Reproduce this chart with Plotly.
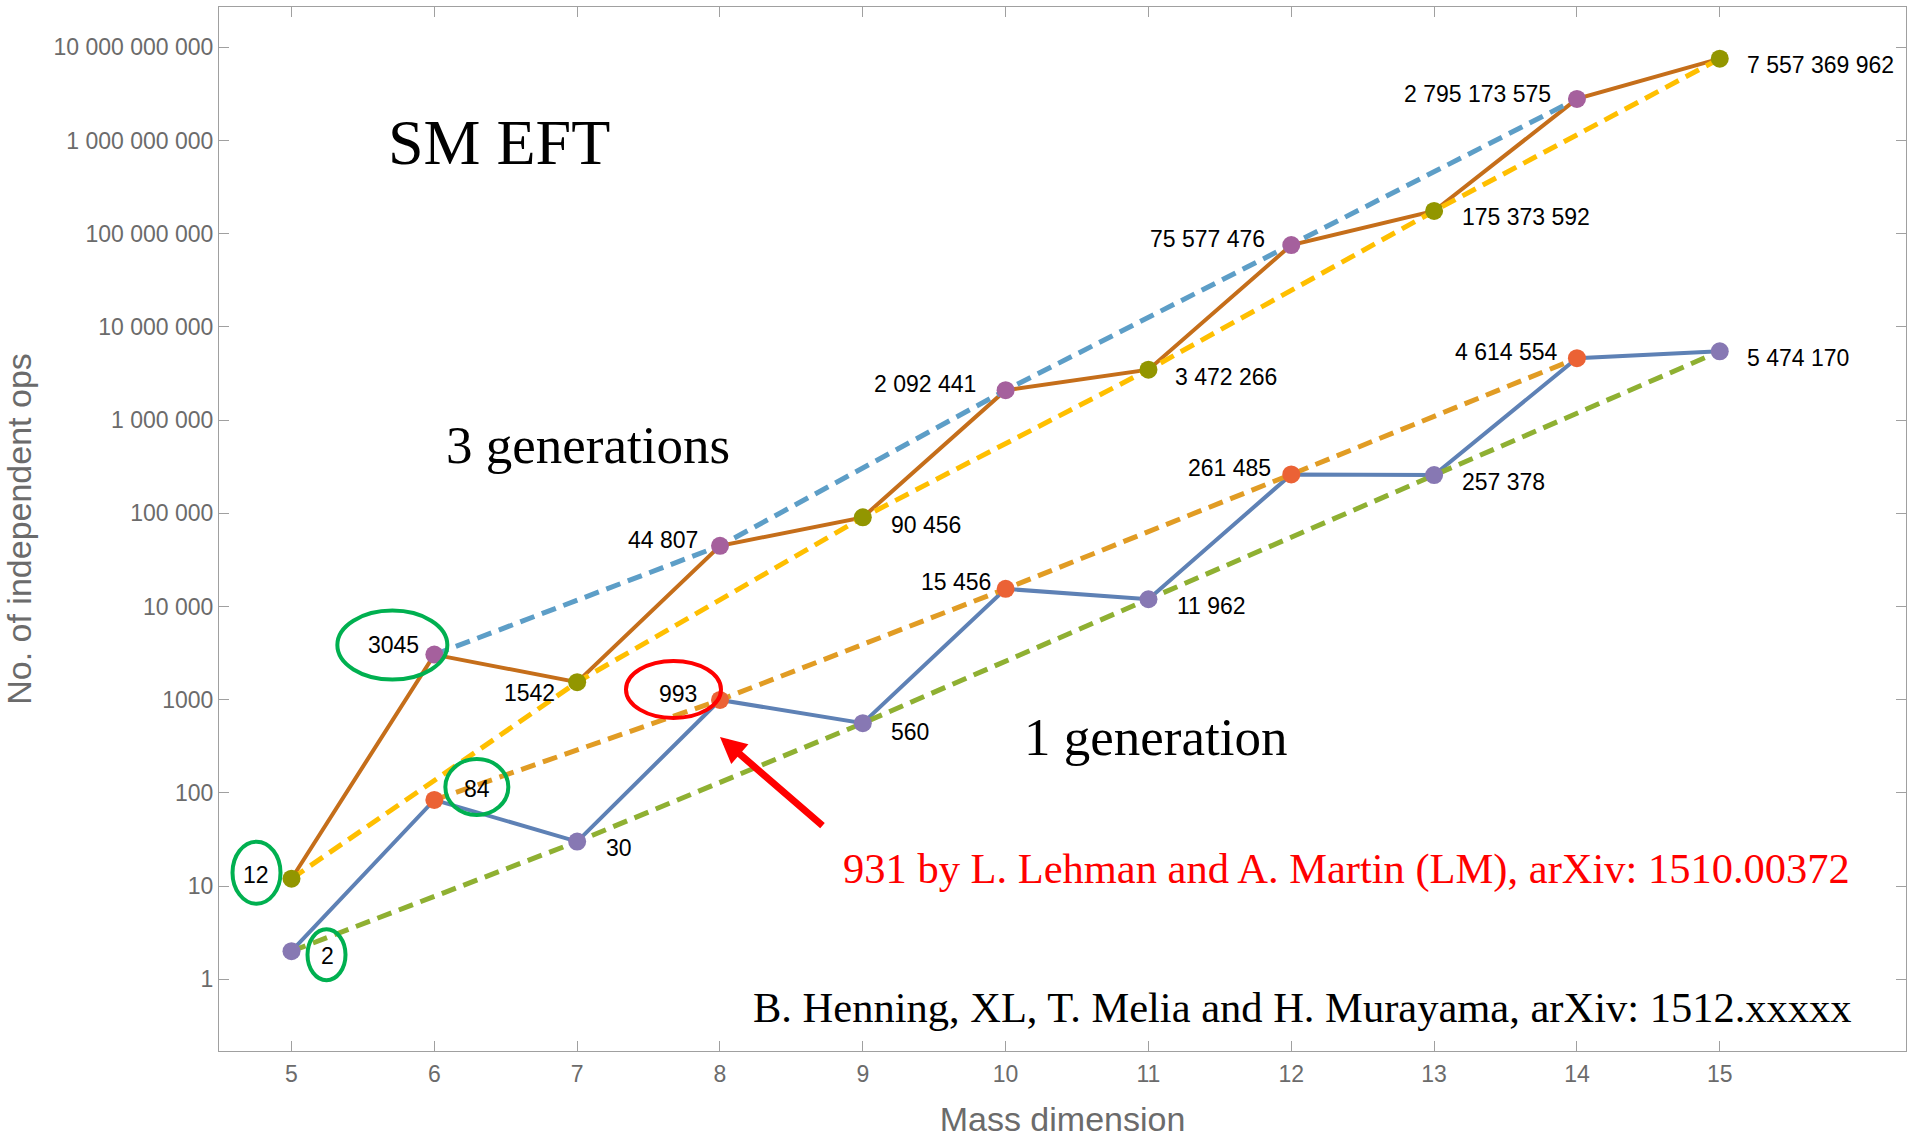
import math
import plotly.graph_objects as go

# ---------------- data ----------------
dims = [5, 6, 7, 8, 9, 10, 11, 12, 13, 14, 15]
one_gen = [2, 84, 30, 993, 560, 15456, 11962, 261485, 257378, 4614554, 5474170]
three_gen = [12, 3045, 1542, 44807, 90456, 2092441, 3472266, 75577476,
             175373592, 2795173575, 7557369962]

x_tickvals = [5, 6, 7, 8, 9, 10, 11, 12, 13, 14, 15]
y_tickvals = [1, 10, 100, 1000, 10000, 100000, 1000000, 10000000,
              100000000, 1000000000, 10000000000]
y_ticktext = ["1", "10", "100", "1000", "10 000", "100 000", "1 000 000",
              "10 000 000", "100 000 000", "1 000 000 000", "10 000 000 000"]

# ---------------- styles ----------------
SANS = "Liberation Sans, Arial, Helvetica, sans-serif"
SERIF = "Liberation Serif, Times New Roman, Times, serif"
GRAY_TXT = "#6b6b6b"
AXIS_COL = "#a0a0a0"

C_SOLID_3 = "#C56E1A"
C_SOLID_1 = "#5E81B5"
C_DASH_3E = "#5D9EC7"
C_DASH_3O = "#FFBF00"
C_DASH_1E = "#E19C24"
C_DASH_1O = "#8FB032"
C_MK_3E = "#A5609D"
C_MK_3O = "#929600"
C_MK_1E = "#EB6235"
C_MK_1O = "#8778B3"

DASH = "15px,8px"
W_SOLID = 4.0
W_DASH = 5.0
MK = 18

FIG_W, FIG_H = 1907, 1138
M_L, M_R, M_T, M_B = 219, 1, 7, 87
X_RANGE = [4.4923, 16.304]
Y_RANGE = [-0.7696, 10.4325]          # log10 units
PX_PER_DECADE = (FIG_H - M_T - M_B) / (Y_RANGE[1] - Y_RANGE[0])


def fmt(n):
    if n < 10000:
        return str(n)
    return f"{n:,}".replace(",", " ")


def sub(lst, start):
    return lst[start::2]


fig = go.Figure()

# solid data lines
fig.add_trace(go.Scatter(x=dims, y=three_gen, mode="lines",
                         line=dict(color=C_SOLID_3, width=W_SOLID), hoverinfo="skip"))
fig.add_trace(go.Scatter(x=dims, y=one_gen, mode="lines",
                         line=dict(color=C_SOLID_1, width=W_SOLID), hoverinfo="skip"))

# dashed even / odd envelopes
for xs, ys, col in [
    (sub(dims, 1), sub(three_gen, 1), C_DASH_3E),
    (sub(dims, 0), sub(three_gen, 0), C_DASH_3O),
    (sub(dims, 1), sub(one_gen, 1), C_DASH_1E),
    (sub(dims, 0), sub(one_gen, 0), C_DASH_1O),
]:
    fig.add_trace(go.Scatter(x=xs, y=ys, mode="lines",
                             line=dict(color=col, width=W_DASH, dash=DASH),
                             hoverinfo="skip"))

# markers
for xs, ys, col in [
    (sub(dims, 1), sub(three_gen, 1), C_MK_3E),
    (sub(dims, 0), sub(three_gen, 0), C_MK_3O),
    (sub(dims, 1), sub(one_gen, 1), C_MK_1E),
    (sub(dims, 0), sub(one_gen, 0), C_MK_1O),
]:
    fig.add_trace(go.Scatter(x=xs, y=ys, mode="markers",
                             marker=dict(color=col, size=MK, line=dict(width=0)),
                             hoverinfo="skip"))

# ---------------- value labels ----------------
# (side, dx, dy_up) in pixels relative to the point
pos3 = {5: ("r", -23, 4), 6: ("r", -15, 10), 7: ("r", -22, -11), 8: ("r", -22, 6),
        9: ("l", 28, -8), 10: ("r", -30, 6), 11: ("l", 27, -7), 12: ("r", -26, 6),
        13: ("l", 28, -6), 14: ("r", -26, 5), 15: ("l", 27, -6)}
pos1 = {5: ("l", 29, -5), 6: ("l", 30, 11), 7: ("l", 29, -6), 8: ("r", -23, 6),
        9: ("l", 28, -9), 10: ("r", -15, 7), 11: ("l", 29, -7), 12: ("r", -20, 6),
        13: ("l", 28, -7), 14: ("r", -19, 6), 15: ("l", 27, -7)}

annotations = []
for series, pos in [(three_gen, pos3), (one_gen, pos1)]:
    for d, v in zip(dims, series):
        side, dx, dy = pos[d]
        annotations.append(dict(
            x=d, y=math.log10(v), xref="x", yref="y", text=fmt(v),
            showarrow=False, xanchor="right" if side == "r" else "left",
            yanchor="middle", xshift=dx, yshift=dy, borderpad=0, borderwidth=0,
            font=dict(family=SANS, size=23, color="black")))

# big texts (paper coords)
big_texts = [
    ("SM EFT", 0.16615, 0.87031, "center", 64, "black"),
    ("3 generations", 0.21891, 0.58065, "center", 53, "black"),
    ("1 generation", 0.55531, 0.30067, "center", 53, "black"),
    ("931 by L. Lehman and A. Martin (LM), arXiv: 1510.00372", 0.96669, 0.17433,
     "right", 42.5, "#FF0000"),
    ("B. Henning, XL, T. Melia and H. Murayama, arXiv: 1512.xxxxx", 0.96823, 0.04176,
     "right", 42.5, "black"),
]
for txt, xp, yp, xa, sz, col in big_texts:
    annotations.append(dict(x=xp, y=yp, xref="paper", yref="paper", text=txt,
                            showarrow=False, xanchor=xa, yanchor="middle",
                            borderpad=0, borderwidth=0,
                            font=dict(family=SERIF, size=sz, color=col)))

# red arrow pointing to the dim-8 one-generation point
annotations.append(dict(x=8, y=math.log10(one_gen[3]), xref="x", yref="y", text="",
                        showarrow=True, arrowhead=2, arrowsize=0.75, arrowwidth=7,
                        arrowcolor="#FF0000", ax=104, ay=90, yshift=-37, standoff=0))

# ---------------- ellipses ----------------
# pixel offsets (dx0, dx1, dy0_up, dy1_up) relative to the data point.
# On a log axis plotly only accepts positive pixel offsets, so the anchor is
# placed one decade below the point and the offsets are raised accordingly.
GREEN = "#00B050"
ellipses = [
    (5, three_gen[0], -59, -11, -25, 37, GREEN),
    (5, one_gen[0], 16, 54, -29, 22, GREEN),
    (6, three_gen[1], -97, 13, -25, 44, GREEN),
    (6, one_gen[1], 11, 74, -15, 41, GREEN),
    (8, one_gen[3], -94, 1, -18, 39, "#FF0000"),
]
shapes = []
for xa, ya, x0, x1, y0, y1, col in ellipses:
    shapes.append(dict(type="circle", xref="x", yref="y",
                       xsizemode="pixel", ysizemode="pixel",
                       xanchor=xa, yanchor=ya / 10.0,
                       x0=x0, x1=x1,
                       y0=y0 + PX_PER_DECADE, y1=y1 + PX_PER_DECADE,
                       line=dict(color=col, width=4), layer="above"))

axis_common = dict(
    showline=True, linecolor=AXIS_COL, linewidth=1, mirror="ticks",
    ticks="inside", ticklen=10, tickwidth=1, tickcolor=AXIS_COL,
    showgrid=False, zeroline=False, automargin=False,
    tickfont=dict(family=SANS, size=23, color=GRAY_TXT),
)

fig.update_layout(
    template="none",
    width=FIG_W, height=FIG_H,
    margin=dict(l=M_L, r=M_R, t=M_T, b=M_B),
    paper_bgcolor="white", plot_bgcolor="white",
    showlegend=False,
    annotations=annotations,
    shapes=shapes,
    xaxis=dict(range=X_RANGE, tickvals=x_tickvals, ticklabelstandoff=2,
               title=dict(text="Mass dimension", standoff=27,
                          font=dict(family=SANS, size=34, color=GRAY_TXT)),
               **axis_common),
    yaxis=dict(type="log", range=Y_RANGE, tickvals=y_tickvals,
               ticktext=y_ticktext,
               title=dict(text="No. of independent ops", standoff=19,
                          font=dict(family=SANS, size=34, color=GRAY_TXT)),
               **axis_common),
)

fig.write_html("out.html",
               config={"displayModeBar": False},
               post_script="document.body.style.margin='0';document.body.style.overflow='hidden';")
